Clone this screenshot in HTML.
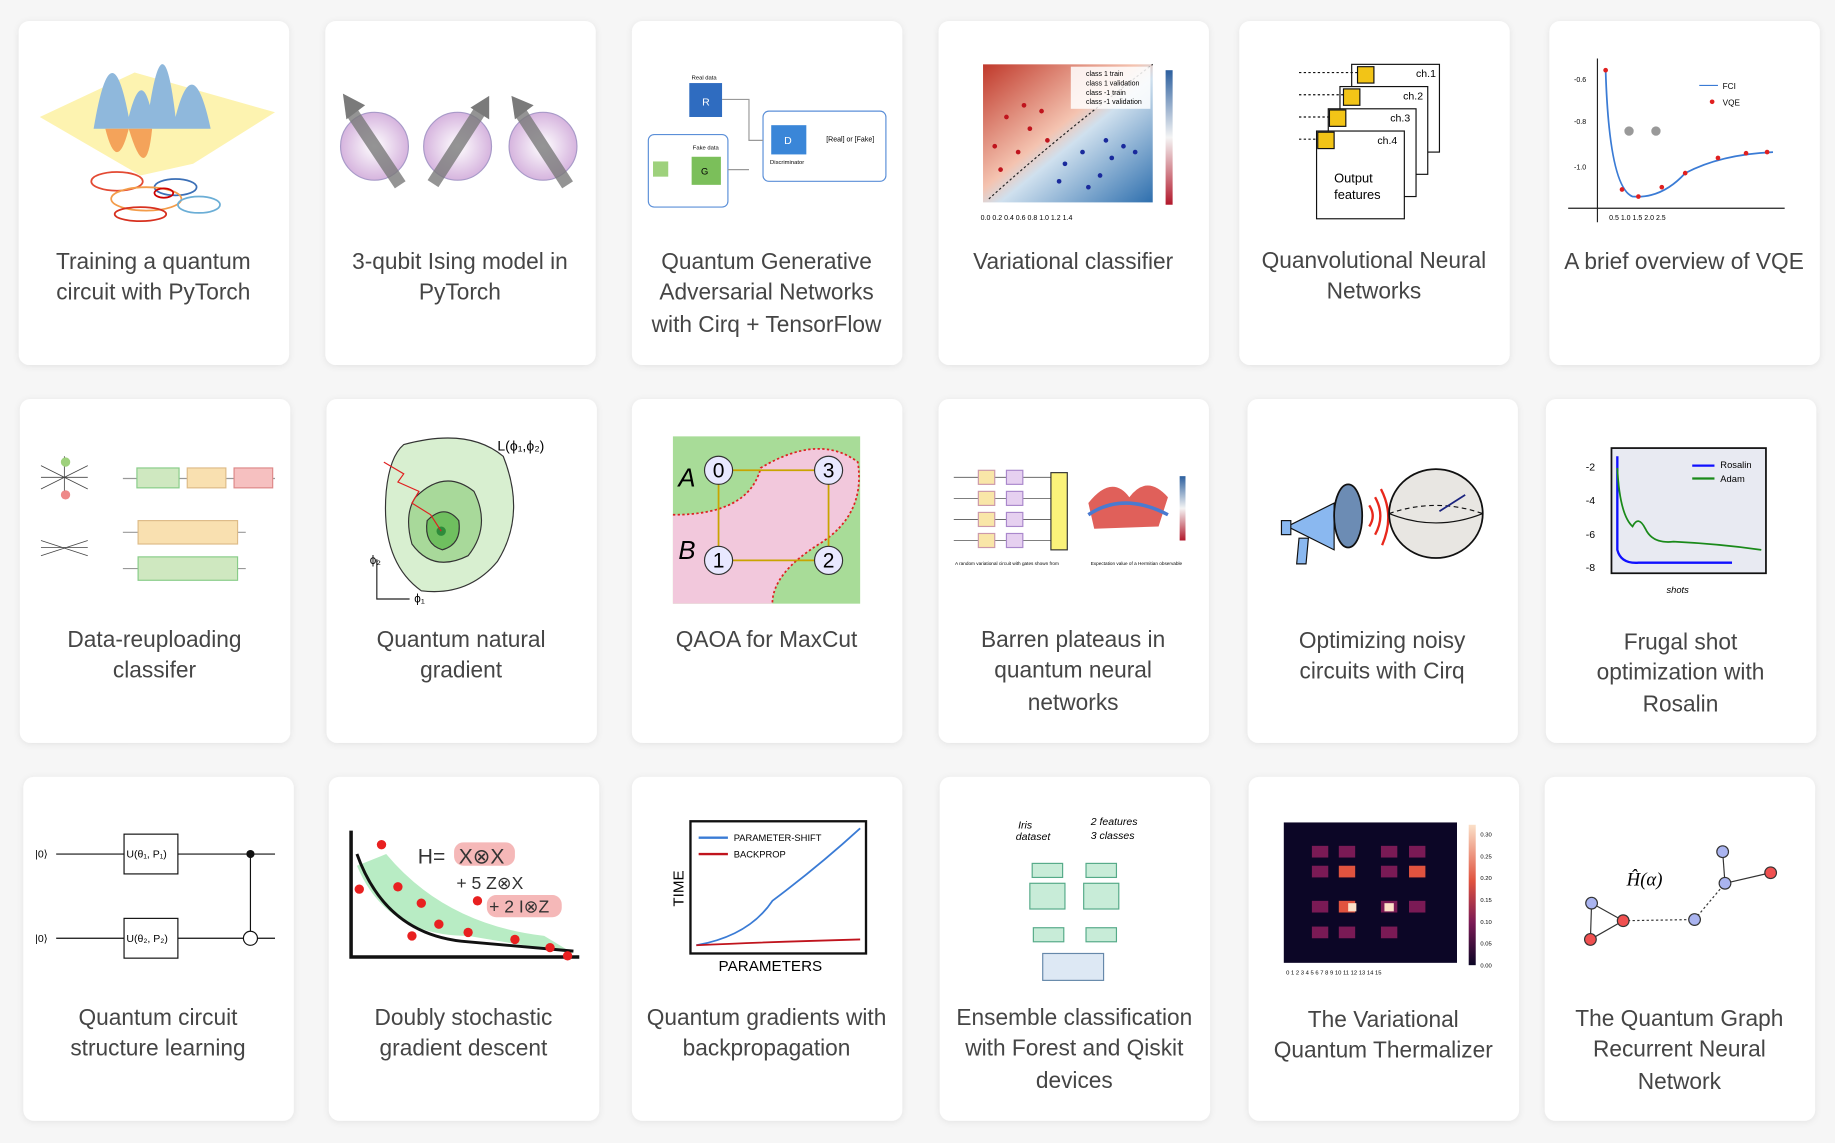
<!DOCTYPE html>
<html><head><meta charset="utf-8"><style>
html,body{margin:0;padding:0;background:#f6f6f6;}
svg{display:block}
text{font-family:"Liberation Sans",sans-serif;}
.t{font-size:19.4px;fill:#454545;text-anchor:middle;}
.s{font-size:7px;fill:#333;}
.h{font-family:"Liberation Serif",serif;}
</style></head><body>
<svg width="1835" height="1143" viewBox="0 0 1568 977" preserveAspectRatio="none" xmlns="http://www.w3.org/2000/svg">
<defs>
<filter id="sh" x="-10%" y="-10%" width="120%" height="120%"><feDropShadow dx="0" dy="1" stdDeviation="3" flood-color="#000" flood-opacity="0.08"/></filter>
<linearGradient id="g4" x1="0" y1="0" x2="1" y2="1"><stop offset="0" stop-color="#c0392b"/><stop offset="0.45" stop-color="#f4c3b0"/><stop offset="0.55" stop-color="#cfe0ee"/><stop offset="1" stop-color="#2e6fae"/></linearGradient>
<linearGradient id="cb" x1="0" y1="0" x2="0" y2="1"><stop offset="0" stop-color="#2c5f9e"/><stop offset="0.5" stop-color="#f4f4f4"/><stop offset="1" stop-color="#b2182b"/></linearGradient>
<linearGradient id="cb2" x1="0" y1="0" x2="0" y2="1"><stop offset="0" stop-color="#fbe0c8"/><stop offset="0.4" stop-color="#e0533f"/><stop offset="0.7" stop-color="#7a1a55"/><stop offset="1" stop-color="#0c0626"/></linearGradient>
<radialGradient id="sp"><stop offset="0" stop-color="#fff"/><stop offset="1" stop-color="#d6b4de"/></radialGradient>
</defs>
<rect width="1568" height="977" fill="#f6f6f6"/>
<g fill="#fff" filter="url(#sh)">
<rect x="16" y="18" width="231" height="294" rx="9"/><rect x="278" y="18" width="231" height="294" rx="9"/><rect x="540" y="18" width="231" height="294" rx="9"/><rect x="802" y="18" width="231" height="294" rx="9"/><rect x="1059" y="18" width="231" height="294" rx="9"/><rect x="1324" y="18" width="231" height="294" rx="9"/>
<rect x="17" y="341" width="231" height="294" rx="9"/><rect x="279" y="341" width="231" height="294" rx="9"/><rect x="540" y="341" width="231" height="294" rx="9"/><rect x="802" y="341" width="231" height="294" rx="9"/><rect x="1066" y="341" width="231" height="294" rx="9"/><rect x="1321" y="341" width="231" height="294" rx="9"/>
<rect x="20" y="664" width="231" height="294" rx="9"/><rect x="281" y="664" width="231" height="294" rx="9"/><rect x="540" y="664" width="231" height="294" rx="9"/><rect x="803" y="664" width="231" height="294" rx="9"/><rect x="1067" y="664" width="231" height="294" rx="9"/><rect x="1320" y="664" width="231" height="294" rx="9"/>
</g>

<text class="t" x="131" y="230">Training a quantum</text><text class="t" x="131" y="256">circuit with PyTorch</text>
<text class="t" x="393" y="230">3-qubit Ising model in</text><text class="t" x="393" y="256">PyTorch</text>
<text class="t" x="655" y="230">Quantum Generative</text><text class="t" x="655" y="256">Adversarial Networks</text><text class="t" x="655" y="284">with Cirq + TensorFlow</text>
<text class="t" x="917" y="230">Variational classifier</text>
<text class="t" x="1174" y="229">Quanvolutional Neural</text><text class="t" x="1174" y="255">Networks</text>
<text class="t" x="1439" y="230">A brief overview of VQE</text>
<text class="t" x="132" y="553">Data-reuploading</text><text class="t" x="132" y="579">classifer</text>
<text class="t" x="394" y="553">Quantum natural</text><text class="t" x="394" y="579">gradient</text>
<text class="t" x="655" y="553">QAOA for MaxCut</text>
<text class="t" x="917" y="553">Barren plateaus in</text><text class="t" x="917" y="579">quantum neural</text><text class="t" x="917" y="607">networks</text>
<text class="t" x="1181" y="554">Optimizing noisy</text><text class="t" x="1181" y="580">circuits with Cirq</text>
<text class="t" x="1436" y="555">Frugal shot</text><text class="t" x="1436" y="581">optimization with</text><text class="t" x="1436" y="608">Rosalin</text>
<text class="t" x="135" y="876">Quantum circuit</text><text class="t" x="135" y="902">structure learning</text>
<text class="t" x="396" y="876">Doubly stochastic</text><text class="t" x="396" y="902">gradient descent</text>
<text class="t" x="655" y="876">Quantum gradients with</text><text class="t" x="655" y="902">backpropagation</text>
<text class="t" x="918" y="876">Ensemble classification</text><text class="t" x="918" y="902">with Forest and Qiskit</text><text class="t" x="918" y="930">devices</text>
<text class="t" x="1182" y="878">The Variational</text><text class="t" x="1182" y="904">Quantum Thermalizer</text>
<text class="t" x="1435" y="877">The Quantum Graph</text><text class="t" x="1435" y="903">Recurrent Neural</text><text class="t" x="1435" y="931">Network</text>

<polygon points="34,100 115,62 235,96 165,140 120,150" fill="#fdf3b0"/>
<path d="M80,110 Q95,20 110,100 Q120,60 128,90 Q140,15 150,100 Q165,40 180,110 Z" fill="#8fb8dc"/>
<path d="M90,110 Q100,150 110,110 Q125,160 130,110 Z" fill="#f4a35a"/>
<g fill="none" stroke-width="1.5"><ellipse cx="100" cy="155" rx="22" ry="8" stroke="#e34a33"/><ellipse cx="150" cy="160" rx="18" ry="7" stroke="#3b6fb6"/><ellipse cx="125" cy="170" rx="30" ry="10" stroke="#f39c4a"/><ellipse cx="170" cy="175" rx="18" ry="7" stroke="#6baed6"/><ellipse cx="120" cy="183" rx="22" ry="6" stroke="#d7301f"/><ellipse cx="140" cy="165" rx="8" ry="4" stroke="#c00"/></g>
<g stroke="#a89ac8" fill="url(#sp)"><circle cx="320" cy="125" r="29"/><circle cx="391" cy="125" r="29"/><circle cx="464" cy="125" r="29"/></g>
<g stroke="#7a7a7a" stroke-width="11" opacity="0.8"><line x1="300" y1="95" x2="342" y2="158"/><line x1="370" y1="157" x2="410" y2="95"/><line x1="444" y1="95" x2="485" y2="158"/></g>
<g fill="#7a7a7a"><polygon points="293,80 312,90 296,102"/><polygon points="418,82 418,102 402,92"/><polygon points="437,82 456,90 440,102"/></g>
<text x="591" y="68" style="font-size:5px">Real data</text><rect x="589" y="71" width="28" height="29" fill="#2f6cc0"/><text x="600" y="90" fill="#fff" style="font-size:9px">R</text>
<rect x="652" y="95" width="105" height="60" rx="5" fill="none" stroke="#5b8fd8"/><rect x="659" y="107" width="30" height="25" fill="#3a86d8"/><text x="670" y="123" fill="#fff" style="font-size:9px">D</text><text x="706" y="121" style="font-size:6px">[Real] or [Fake]</text><text x="658" y="140" style="font-size:5px">Discriminator</text>
<rect x="554" y="115" width="68" height="62" rx="5" fill="none" stroke="#5b8fd8"/><rect x="558" y="138" width="13" height="13" fill="#9ed17c"/><rect x="591" y="134" width="25" height="24" fill="#7bbf5a"/><text x="599" y="149" style="font-size:8px">G</text><text x="592" y="128" style="font-size:5px">Fake data</text>
<path d="M617,85 H640 V120 H652 M622,145 H640" stroke="#999" fill="none"/>
<rect x="840" y="55" width="145" height="118" fill="url(#g4)"/>
<path d="M845,170 Q900,120 985,55" stroke="#222" stroke-dasharray="2,2" fill="none"/>
<g fill="#c0141d"><circle cx="850" cy="125" r="2"/><circle cx="860" cy="100" r="2"/><circle cx="870" cy="130" r="2"/><circle cx="880" cy="110" r="2"/><circle cx="875" cy="90" r="2"/><circle cx="890" cy="95" r="2"/><circle cx="855" cy="145" r="2"/><circle cx="895" cy="120" r="2"/></g>
<g fill="#1a2a9c"><circle cx="910" cy="140" r="2"/><circle cx="925" cy="130" r="2"/><circle cx="940" cy="150" r="2"/><circle cx="950" cy="135" r="2"/><circle cx="960" cy="125" r="2"/><circle cx="930" cy="160" r="2"/><circle cx="970" cy="130" r="2"/><circle cx="905" cy="155" r="2"/><circle cx="945" cy="120" r="2"/></g>
<rect x="915" y="57" width="68" height="36" fill="#fff" opacity="0.85"/><text x="928" y="65" style="font-size:6px">class 1 train</text><text x="928" y="73" style="font-size:6px">class 1 validation</text><text x="928" y="81" style="font-size:6px">class -1 train</text><text x="928" y="89" style="font-size:6px">class -1 validation</text>
<rect x="996" y="60" width="6" height="115" fill="url(#cb)"/>
<text x="838" y="188" style="font-size:6px">0.0  0.2  0.4  0.6  0.8  1.0  1.2  1.4</text>
<g fill="#fff" stroke="#111"><rect x="1155" y="55" width="75" height="75"/><rect x="1145" y="74" width="75" height="75"/><rect x="1135" y="93" width="75" height="75"/><rect x="1125" y="112" width="75" height="75"/></g>
<g fill="#f2c417" stroke="#111"><rect x="1160" y="57" width="14" height="14"/><rect x="1148" y="76" width="14" height="14"/><rect x="1136" y="94" width="14" height="14"/><rect x="1126" y="113" width="14" height="14"/></g>
<g class="h" style="font-size:9px"><text x="1210" y="66">ch.1</text><text x="1199" y="85">ch.2</text><text x="1188" y="104">ch.3</text><text x="1177" y="123">ch.4</text><text x="1140" y="156" style="font-size:11px">Output</text><text x="1140" y="170" style="font-size:11px">features</text></g>
<g stroke="#111" stroke-dasharray="2,2"><line x1="1110" y1="62" x2="1160" y2="62"/><line x1="1110" y1="81" x2="1148" y2="81"/><line x1="1110" y1="100" x2="1136" y2="100"/><line x1="1110" y1="119" x2="1126" y2="119"/></g>
<path d="M1365,50 V190 M1340,178 H1525" stroke="#222" fill="none"/>
<path d="M1372,60 Q1375,160 1395,168 Q1420,170 1440,148 Q1470,132 1515,130" stroke="#3a7bd5" stroke-width="1.5" fill="none"/>
<g fill="#e02020"><circle cx="1372" cy="60" r="2"/><circle cx="1386" cy="162" r="2"/><circle cx="1400" cy="168" r="2"/><circle cx="1420" cy="160" r="2"/><circle cx="1440" cy="148" r="2"/><circle cx="1468" cy="135" r="2"/><circle cx="1492" cy="131" r="2"/><circle cx="1510" cy="130" r="2"/><circle cx="1463" cy="87" r="2"/></g>
<line x1="1452" y1="73" x2="1468" y2="73" stroke="#3a7bd5"/><text x="1472" y="76" style="font-size:7px">FCI</text><text x="1472" y="90" style="font-size:7px">VQE</text>
<circle cx="1392" cy="112" r="4" fill="#999"/><circle cx="1415" cy="112" r="4" fill="#999"/>
<text x="1345" y="70" style="font-size:6px">-0.6</text><text x="1345" y="106" style="font-size:6px">-0.8</text><text x="1345" y="145" style="font-size:6px">-1.0</text><text x="1375" y="188" style="font-size:6px">0.5    1.0    1.5    2.0    2.5</text>

<g stroke="#999"><line x1="105" y1="409" x2="235" y2="409"/><line x1="105" y1="455" x2="210" y2="455"/><line x1="105" y1="486" x2="210" y2="486"/></g>
<rect x="117" y="400" width="36" height="17" fill="#cfe8c0" stroke="#8c8"/><rect x="160" y="400" width="33" height="17" fill="#f9e0b0" stroke="#db8"/><rect x="200" y="400" width="33" height="17" fill="#f6c0c0" stroke="#d88"/>
<rect x="118" y="445" width="85" height="20" fill="#f9e0b0" stroke="#db8"/><rect x="118" y="476" width="85" height="20" fill="#cfe8c0" stroke="#8c8"/>
<g stroke="#444" stroke-width="0.7"><path d="M35,398 L75,418 M35,418 L75,398 M35,408 L75,408 M55,390 L55,425"/><path d="M35,462 L75,475 M35,475 L75,462 M35,468 L75,468"/></g>
<circle cx="56" cy="395" r="4" fill="#9ed17c"/><circle cx="56" cy="423" r="4" fill="#e88"/>
<path d="M345,380 Q400,365 430,390 Q450,440 425,480 Q400,510 360,505 Q325,480 330,420 Q333,390 345,380Z" fill="#d8efd0" stroke="#333"/>
<path d="M355,425 Q380,400 405,420 Q420,450 400,475 Q370,490 352,465 Q345,440 355,425Z" fill="#a8d99a" stroke="#333"/>
<path d="M365,445 Q380,430 392,445 Q395,465 378,470 Q362,465 365,445Z" fill="#6fbf5f" stroke="#333"/>
<circle cx="377" cy="454" r="4" fill="#2e8b3a"/>
<path d="M328,395 L345,405 L340,412 L358,420 L352,430 L368,440 L377,454" stroke="#e02020" fill="none"/>
<text x="425" y="385" style="font-size:12px">L(ϕ₁,ϕ₂)</text>
<path d="M322,478 V512 H350" stroke="#222" fill="none"/><text x="316" y="482" style="font-size:10px">ϕ₂</text><text x="354" y="515" style="font-size:10px">ϕ₁</text>
<rect x="575" y="373" width="160" height="143" fill="#a8dc98"/>
<path d="M575,440 Q640,440 650,400 Q700,370 733,395 Q740,440 700,465 Q660,490 660,516 H575Z" fill="#f2c8dc"/>
<path d="M575,440 Q640,440 650,400 Q700,370 733,395 Q740,440 700,465 Q660,490 660,516" stroke="#d22" stroke-dasharray="2,2" fill="none" stroke-width="1.5"/>
<g stroke="#c9a400" stroke-width="1.5"><line x1="614" y1="402" x2="708" y2="402"/><line x1="614" y1="402" x2="614" y2="479"/><line x1="614" y1="479" x2="708" y2="479"/><line x1="708" y1="402" x2="708" y2="479"/></g>
<g fill="#e8e8ff" stroke="#333"><circle cx="614" cy="402" r="12"/><circle cx="708" cy="402" r="12"/><circle cx="614" cy="479" r="12"/><circle cx="708" cy="479" r="12"/></g>
<g class="h" style="font-size:18px" text-anchor="middle"><text x="614" y="408">0</text><text x="708" y="408">3</text><text x="614" y="485">1</text><text x="708" y="485">2</text><text x="587" y="416" style="font-style:italic;font-size:22px">A</text><text x="587" y="478" style="font-style:italic;font-size:22px">B</text></g>
<g stroke="#555" stroke-width="0.7"><line x1="815" y1="408" x2="905" y2="408"/><line x1="815" y1="426" x2="905" y2="426"/><line x1="815" y1="444" x2="905" y2="444"/><line x1="815" y1="462" x2="905" y2="462"/></g>
<g fill="#f9e6a8" stroke="#c9a"><rect x="836" y="402" width="14" height="12"/><rect x="836" y="420" width="14" height="12"/><rect x="836" y="438" width="14" height="12"/><rect x="836" y="456" width="14" height="12"/></g>
<g fill="#e6d0f0" stroke="#a8c"><rect x="860" y="402" width="14" height="12"/><rect x="860" y="420" width="14" height="12"/><rect x="860" y="438" width="14" height="12"/><rect x="860" y="456" width="14" height="12"/></g>
<rect x="898" y="404" width="14" height="66" fill="#fbf27a" stroke="#333"/>
<path d="M930,430 Q950,405 965,425 Q980,405 998,425 L990,450 L935,452Z" fill="#e0605a"/><path d="M930,440 Q960,420 998,440" stroke="#4a7ad0" fill="none" stroke-width="3"/>
<rect x="1008" y="407" width="5" height="55" fill="url(#cb)"/>
<text x="816" y="483" style="font-size:4px">A random variational circuit with gates shown from</text><text x="932" y="483" style="font-size:4px">Expectation value of a Hermitian observable</text>
<path d="M1100,450 L1140,430 L1140,470 Z" fill="#8ab8f0" stroke="#111"/><rect x="1095" y="445" width="8" height="12" fill="#8ab8f0" stroke="#111"/><path d="M1110,460 L1118,460 L1116,482 L1108,482Z" fill="#8ab8f0" stroke="#111"/>
<ellipse cx="1152" cy="441" rx="12" ry="27" fill="#6c8cb4" stroke="#111" stroke-width="1.5"/>
<g stroke="#e8281c" stroke-width="2" fill="none"><path d="M1170,432 Q1176,441 1170,450"/><path d="M1175,425 Q1184,441 1175,457"/><path d="M1180,418 Q1192,441 1181,466"/></g>
<ellipse cx="1227" cy="439" rx="40" ry="38" fill="#e8e6e2" stroke="#111" stroke-width="1.5"/>
<path d="M1187,439 Q1227,455 1267,439" stroke="#111" fill="none"/><path d="M1187,439 Q1227,425 1267,439" stroke="#111" stroke-dasharray="4,3" fill="none"/>
<line x1="1230" y1="437" x2="1252" y2="423" stroke="#1a237e" stroke-width="1.5"/>
<rect x="1377" y="383" width="132" height="107" fill="#e8eaf2" stroke="#111" stroke-width="1.5"/>
<path d="M1382,390 V470 Q1385,482 1400,481 H1480" stroke="#1010ff" stroke-width="2" fill="none"/>
<path d="M1382,400 Q1384,440 1395,450 Q1400,440 1406,452 Q1412,465 1430,463 Q1470,465 1505,470" stroke="#1a8a1a" stroke-width="1.5" fill="none"/>
<line x1="1446" y1="398" x2="1465" y2="398" stroke="#1010ff" stroke-width="2"/><line x1="1446" y1="409" x2="1465" y2="409" stroke="#1a8a1a" stroke-width="2"/>
<text x="1470" y="400" style="font-size:8px">Rosalin</text><text x="1470" y="412" style="font-size:8px">Adam</text>
<g style="font-size:9px"><text x="1355" y="402">-2</text><text x="1355" y="431">-4</text><text x="1355" y="460">-6</text><text x="1355" y="488">-8</text></g>
<text x="1424" y="507" style="font-size:8px;font-style:italic">shots</text>

<g stroke="#111"><line x1="48" y1="730" x2="235" y2="730"/><line x1="48" y1="802" x2="235" y2="802"/><line x1="214" y1="730" x2="214" y2="808"/></g>
<rect x="106" y="713" width="46" height="34" fill="#fff" stroke="#111"/><rect x="106" y="785" width="46" height="34" fill="#fff" stroke="#111"/>
<circle cx="214" cy="730" r="3.5" fill="#111"/><circle cx="214" cy="802" r="6" fill="#fff" stroke="#111"/>
<g class="h" style="font-size:9px"><text x="30" y="733">|0⟩</text><text x="30" y="805">|0⟩</text><text x="108" y="733">U(θ₁, P₁)</text><text x="108" y="805">U(θ₂, P₂)</text></g>
<path d="M305,740 Q330,800 400,800 L490,815 L465,800 Q380,790 330,730Z" fill="#b8ecc4"/>
<path d="M300,710 V818 H495" stroke="#111" stroke-width="3" fill="none"/>
<path d="M305,730 Q330,800 400,805 L490,813" stroke="#111" stroke-width="2.5" fill="none"/>
<g fill="#e82020"><circle cx="326" cy="722" r="4"/><circle cx="307" cy="760" r="4"/><circle cx="340" cy="758" r="4"/><circle cx="360" cy="772" r="4"/><circle cx="375" cy="790" r="4"/><circle cx="400" cy="797" r="4"/><circle cx="352" cy="800" r="4"/><circle cx="440" cy="803" r="4"/><circle cx="470" cy="810" r="4"/><circle cx="485" cy="817" r="4"/><circle cx="408" cy="770" r="4"/></g>
<rect x="388" y="720" width="52" height="20" rx="8" fill="#f5b8b8"/><rect x="416" y="765" width="64" height="19" rx="8" fill="#f5b8b8"/>
<g style="font-size:18px" fill="#333"><text x="357" y="738">H=</text><text x="392" y="738">X⊗X</text><text x="390" y="760" style="font-size:15px">+ 5 Z⊗X</text><text x="418" y="780" style="font-size:15px">+ 2 I⊗Z</text></g>
<rect x="590" y="702" width="150" height="113" fill="#fff" stroke="#111" stroke-width="2"/>
<path d="M595,808 Q640,800 660,770 Q700,740 735,708" stroke="#3a7bd5" stroke-width="1.5" fill="none"/>
<path d="M595,808 Q660,805 735,803" stroke="#c0141d" stroke-width="1.5" fill="none"/>
<line x1="597" y1="716" x2="622" y2="716" stroke="#3a7bd5" stroke-width="2"/><line x1="597" y1="730" x2="622" y2="730" stroke="#c0141d" stroke-width="2"/>
<g style="font-size:8px"><text x="627" y="719">PARAMETER-SHIFT</text><text x="627" y="733">BACKPROP</text></g>
<text x="614" y="830" style="font-size:13px">PARAMETERS</text><text x="584" y="775" transform="rotate(-90 584 775)" style="font-size:13px">TIME</text>
<g fill="#c8ecd8" stroke="#5a8"><rect x="882" y="738" width="26" height="12"/><rect x="928" y="738" width="26" height="12"/><rect x="880" y="755" width="30" height="22"/><rect x="926" y="755" width="30" height="22"/><rect x="883" y="793" width="26" height="12"/><rect x="928" y="793" width="26" height="12"/></g>
<rect x="891" y="815" width="52" height="23" fill="#dde8f4" stroke="#68a"/>
<g style="font-size:9px;font-style:italic"><text x="870" y="708">Iris</text><text x="868" y="718">dataset</text><text x="932" y="705">2 features</text><text x="932" y="717">3 classes</text></g>
<rect x="1097" y="703" width="148" height="120" fill="#0c0626"/>
<g fill="#7a1a55"><rect x="1121" y="723" width="14" height="10"/><rect x="1144" y="723" width="14" height="10"/><rect x="1180" y="723" width="14" height="10"/><rect x="1204" y="723" width="14" height="10"/><rect x="1121" y="740" width="14" height="10"/><rect x="1180" y="740" width="14" height="10"/><rect x="1121" y="770" width="14" height="10"/><rect x="1180" y="770" width="14" height="10"/><rect x="1204" y="770" width="14" height="10"/><rect x="1121" y="792" width="14" height="10"/><rect x="1144" y="792" width="14" height="10"/><rect x="1180" y="792" width="14" height="10"/></g>
<g fill="#e0533f"><rect x="1144" y="740" width="14" height="10"/><rect x="1204" y="740" width="14" height="10"/><rect x="1144" y="770" width="14" height="10"/></g>
<g fill="#fbe0c8"><rect x="1152" y="772" width="7" height="7"/><rect x="1183" y="772" width="8" height="7"/></g>
<rect x="1255" y="705" width="6" height="120" fill="url(#cb2)"/>
<g style="font-size:5px"><text x="1265" y="715">0.30</text><text x="1265" y="734">0.25</text><text x="1265" y="752">0.20</text><text x="1265" y="771">0.15</text><text x="1265" y="790">0.10</text><text x="1265" y="808">0.05</text><text x="1265" y="827">0.00</text><text x="1099" y="833">0 1 2 3 4 5 6 7 8 9 10 11 12 13 14 15</text></g>
<g stroke="#333" stroke-dasharray="2,2"><line x1="1387" y1="787" x2="1448" y2="786"/><line x1="1448" y1="786" x2="1474" y2="755"/></g>
<g stroke="#333"><line x1="1360" y1="772" x2="1387" y2="787"/><line x1="1359" y1="803" x2="1387" y2="787"/><line x1="1360" y1="772" x2="1359" y2="803"/><line x1="1474" y1="755" x2="1472" y2="728"/><line x1="1474" y1="755" x2="1513" y2="746"/></g>
<g stroke="#333"><circle cx="1360" cy="772" r="5" fill="#aab4f0"/><circle cx="1359" cy="803" r="5" fill="#f05050"/><circle cx="1387" cy="787" r="5" fill="#f05050"/><circle cx="1448" cy="786" r="5" fill="#aab4f0"/><circle cx="1474" cy="755" r="5" fill="#aab4f0"/><circle cx="1472" cy="728" r="5" fill="#aab4f0"/><circle cx="1513" cy="746" r="5" fill="#f05050"/></g>
<text x="1390" y="757" class="h" style="font-size:16px;font-style:italic">Ĥ(α)</text>
</svg>
</body></html>
